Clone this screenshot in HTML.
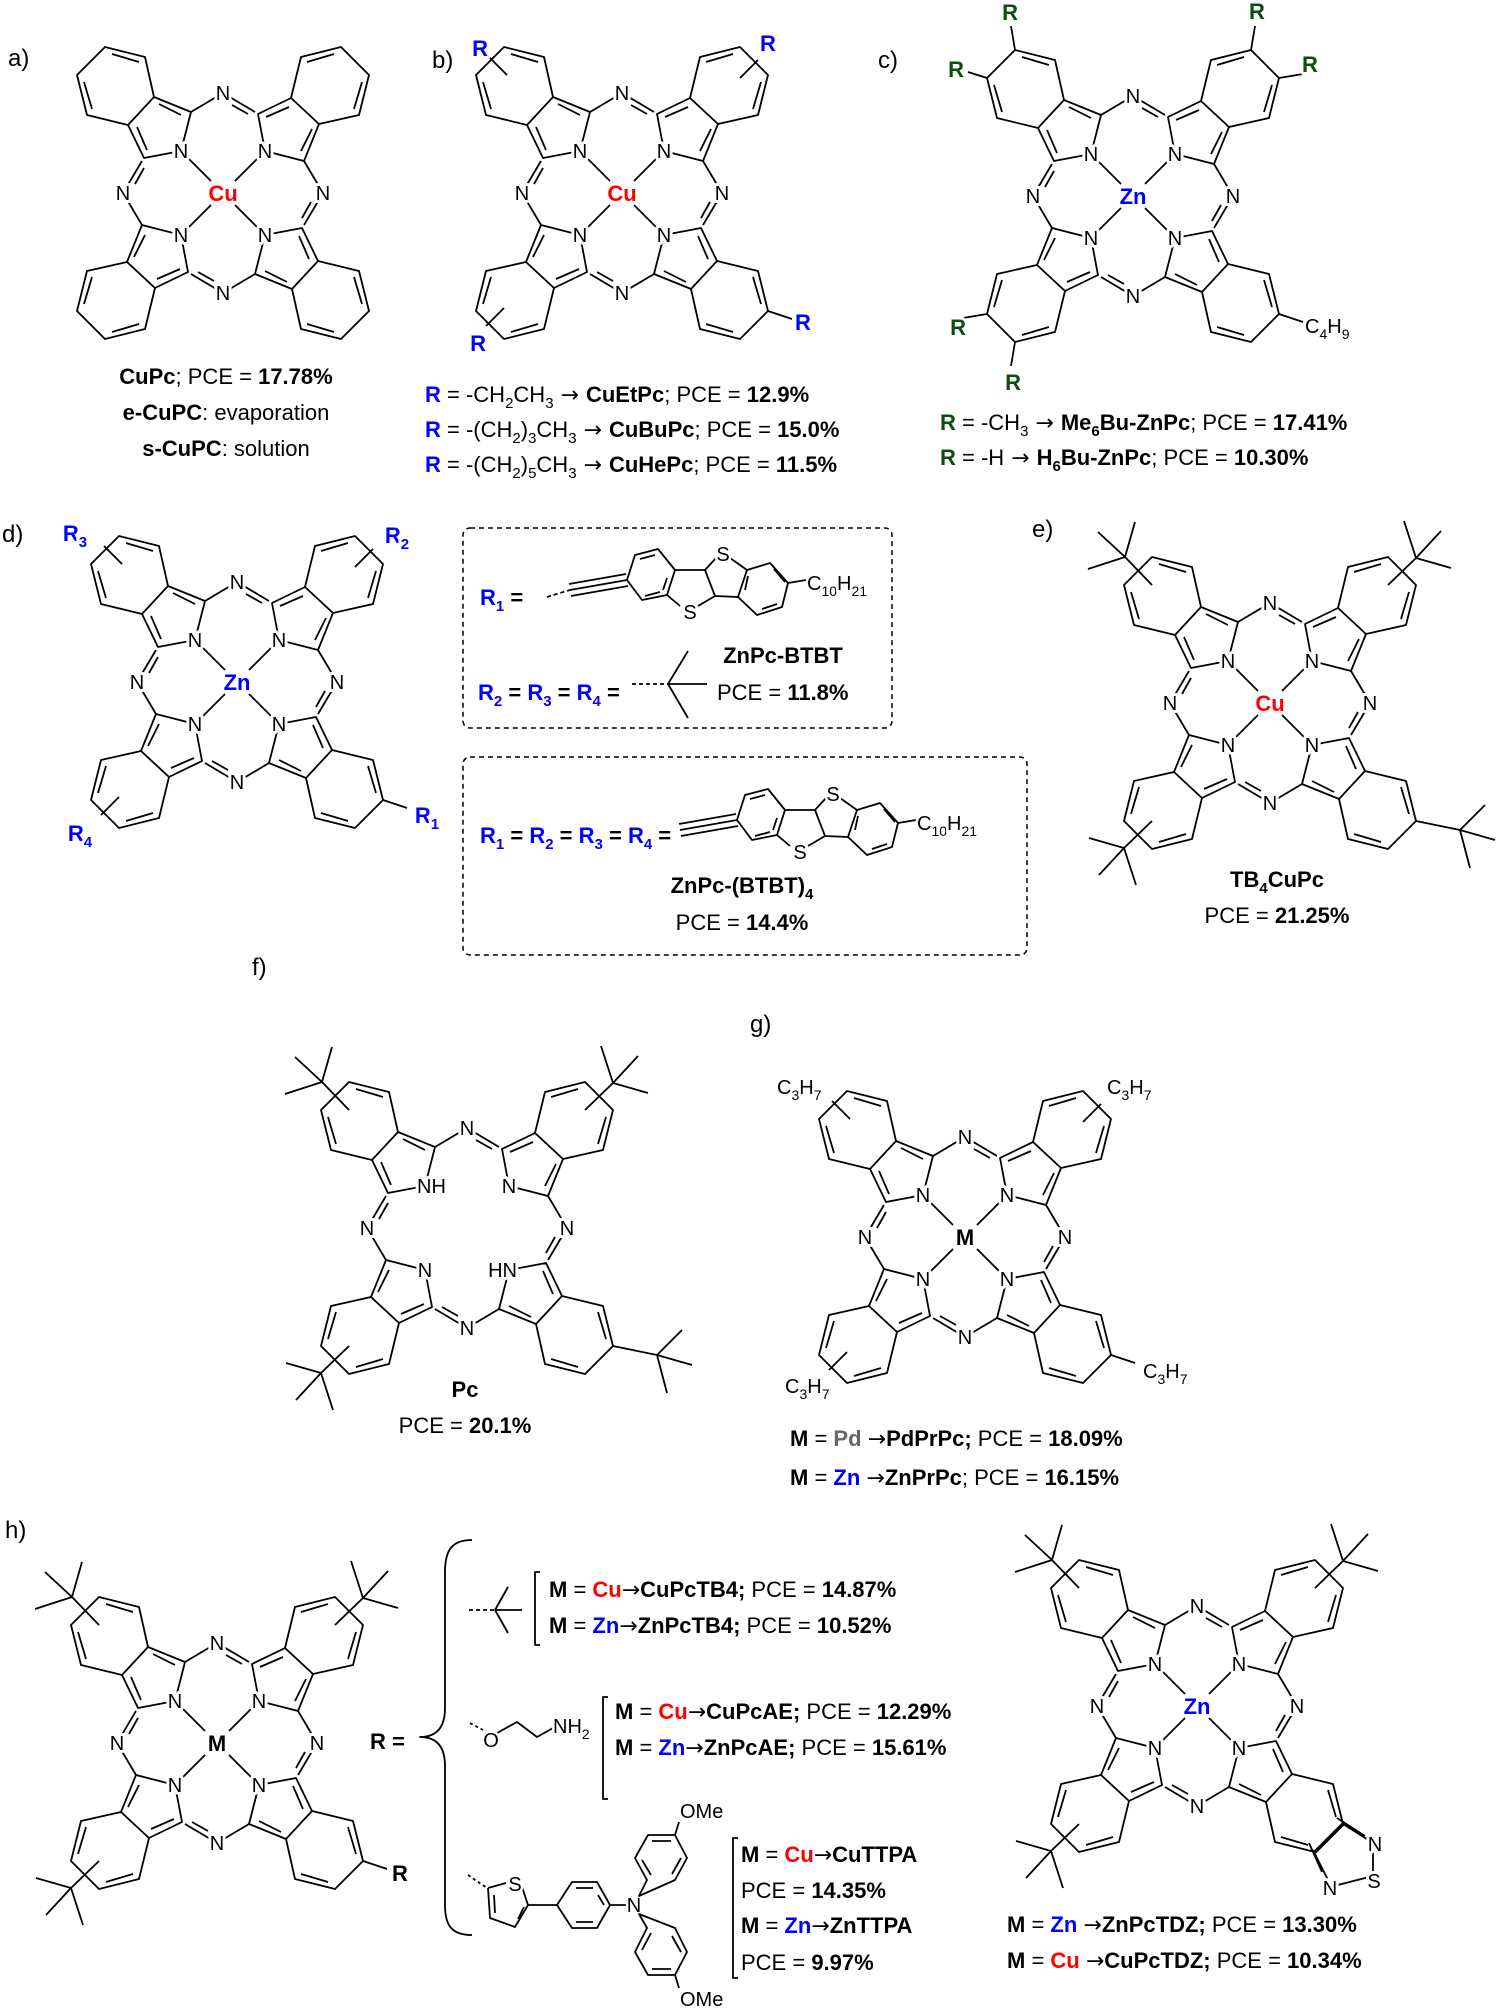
<!DOCTYPE html>
<html><head><meta charset="utf-8">
<style>
html,body{margin:0;padding:0;background:#fff;}
svg{display:block;}
.n{font:20px "Liberation Sans",sans-serif;text-anchor:middle;fill:#000;stroke:#fff;stroke-width:6;paint-order:stroke;stroke-linejoin:round;}
.m{font:bold 22px "Liberation Sans",sans-serif;text-anchor:middle;stroke:#fff;stroke-width:6;paint-order:stroke;stroke-linejoin:round;}
.t{font:22px "Liberation Sans",sans-serif;fill:#000;}
.lb{font:24px "Liberation Sans",sans-serif;fill:#000;}
.s{font:20px "Liberation Sans",sans-serif;fill:#000;stroke:#fff;stroke-width:5;paint-order:stroke;}
.b{font-weight:bold;}
.bl{fill:#0000ff;}
.rd{fill:#ff0000;}
.gr{fill:#0d4d0d;}
.ar{font-family:"DejaVu Sans",sans-serif;font-weight:normal;}
.k{stroke:#000;stroke-width:1.8;fill:none;stroke-linejoin:round;}
</style></head><body>
<svg width="1500" height="2010" viewBox="0 0 1500 2010" xmlns="http://www.w3.org/2000/svg">
<defs>
<g id="q" class="k">
<path d="M-42,-42L-32,-81L-69,-96L-95,-68L-79,-35L-42,-42M-69,-96L-78,-136L-118,-146L-146,-118L-136,-78L-95,-68M-32,-81L0,-100L32,-81"/>
<path d="M-86,-66L-76,-43M-64,-89L-42,-78M-84,-131L-111,-139M-131,-84L-139,-111M9,-88L25,-79"/>
</g>
<g id="pc"><use href="#q"/><use href="#q" transform="rotate(90)"/><use href="#q" transform="rotate(180)"/><use href="#q" transform="rotate(270)"/></g>
<g id="mb1" class="k"><path d="M-36,-36L-12,-12"/></g>
<g id="mb"><use href="#mb1"/><use href="#mb1" transform="rotate(90)"/><use href="#mb1" transform="rotate(180)"/><use href="#mb1" transform="rotate(270)"/></g>
<g id="tb" class="k"><path d="M-118,-118L-145,-146M-145,-146L-182,-134M-145,-146L-135,-181M-145,-146L-172,-171"/></g>
<g id="tbr" class="k"><path d="M146,118L190,127M190,127L225,137M190,127L215,102M190,127L200,165"/></g>
<g id="tb3"><use href="#tb"/><use href="#tb" transform="rotate(90)"/><use href="#tb" transform="rotate(-90)"/></g>
<g id="sl" class="k"><path d="M-133,-136L-115,-118"/></g>
<g id="sl3"><use href="#sl"/><use href="#sl" transform="rotate(90)"/><use href="#sl" transform="rotate(-90)"/></g>
<g id="br" class="k"><path d="M146,118L170,126"/></g>
</defs>

<text class="lb" x="8" y="66">a)</text>
<text class="lb" x="432" y="68">b)</text>
<text class="lb" x="878" y="68">c)</text>
<text class="lb" x="2" y="542">d)</text>
<text class="lb" x="1032" y="537">e)</text>
<text class="lb" x="252" y="975">f)</text>
<text class="lb" x="750" y="1032">g)</text>
<text class="lb" x="5" y="1538">h)</text>

<!-- a -->
<g transform="translate(223,193)">
<use href="#pc"/><use href="#mb"/>
<text class="n" x="-42" y="-35">N</text><text class="n" x="42" y="-35">N</text><text class="n" x="-42" y="49">N</text><text class="n" x="42" y="49">N</text><text class="n" x="0" y="-93">N</text><text class="n" x="-100" y="7">N</text><text class="n" x="100" y="7">N</text><text class="n" x="0" y="107">N</text>
<text class="m rd" x="0" y="8">Cu</text>
</g>
<text class="t" text-anchor="middle" x="226" y="384"><tspan class="b">CuPc</tspan>; PCE = <tspan class="b">17.78%</tspan></text>
<text class="t" text-anchor="middle" x="226" y="420"><tspan class="b">e-CuPC</tspan>: evaporation</text>
<text class="t" text-anchor="middle" x="226" y="456"><tspan class="b">s-CuPC</tspan>: solution</text>

<!-- b -->
<g transform="translate(622,193)">
<use href="#pc"/><use href="#mb"/><use href="#sl3"/><use href="#br"/>
<text class="n" x="-42" y="-35">N</text><text class="n" x="42" y="-35">N</text><text class="n" x="-42" y="49">N</text><text class="n" x="42" y="49">N</text><text class="n" x="0" y="-93">N</text><text class="n" x="-100" y="7">N</text><text class="n" x="100" y="7">N</text><text class="n" x="0" y="107">N</text>
<text class="m rd" x="0" y="8">Cu</text>
<text class="m bl" x="-142" y="-137">R</text><text class="m bl" x="146" y="-142">R</text><text class="m bl" x="-144" y="158">R</text><text class="m bl" x="181" y="137">R</text>
</g>
<text class="t" x="425" y="402"><tspan class="b bl">R</tspan> = -CH<tspan font-size="15" dy="6">2</tspan><tspan dy="-6">CH</tspan><tspan font-size="15" dy="6">3</tspan><tspan dy="-6" class="ar"> → </tspan><tspan class="b">CuEtPc</tspan>; PCE = <tspan class="b">12.9%</tspan></text>
<text class="t" x="425" y="437"><tspan class="b bl">R</tspan> = -(CH<tspan font-size="15" dy="6">2</tspan><tspan dy="-6">)</tspan><tspan font-size="15" dy="6">3</tspan><tspan dy="-6">CH</tspan><tspan font-size="15" dy="6">3</tspan><tspan dy="-6" class="ar"> → </tspan><tspan class="b">CuBuPc</tspan>; PCE = <tspan class="b">15.0%</tspan></text>
<text class="t" x="425" y="472"><tspan class="b bl">R</tspan> = -(CH<tspan font-size="15" dy="6">2</tspan><tspan dy="-6">)</tspan><tspan font-size="15" dy="6">5</tspan><tspan dy="-6">CH</tspan><tspan font-size="15" dy="6">3</tspan><tspan dy="-6" class="ar"> → </tspan><tspan class="b">CuHePc</tspan>; PCE = <tspan class="b">11.5%</tspan></text>

<!-- c -->
<g transform="translate(1133,196)">
<use href="#pc"/><use href="#mb"/><use href="#br"/>
<path class="k" d="M-118,-146L-122,-170M-146,-118L-165,-124M146,-118L170,-122M118,-146L122,-170M-146,118L-170,122M-118,146L-122,170"/>
<text class="n" x="-42" y="-35">N</text><text class="n" x="42" y="-35">N</text><text class="n" x="-42" y="49">N</text><text class="n" x="42" y="49">N</text><text class="n" x="0" y="-93">N</text><text class="n" x="-100" y="7">N</text><text class="n" x="100" y="7">N</text><text class="n" x="0" y="107">N</text>
<text class="m bl" x="0" y="8">Zn</text>
<text class="m gr" x="-123" y="-176">R</text><text class="m gr" x="-177" y="-119">R</text>
<text class="m gr" x="124" y="-177">R</text><text class="m gr" x="177" y="-124">R</text>
<text class="m gr" x="-175" y="139">R</text><text class="m gr" x="-120" y="194">R</text>
<text class="s" x="172" y="137">C<tspan font-size="14" dy="6">4</tspan><tspan dy="-6">H</tspan><tspan font-size="14" dy="6">9</tspan></text>
</g>
<text class="t" x="940" y="430"><tspan class="b gr">R</tspan> = -CH<tspan font-size="15" dy="6">3</tspan><tspan dy="-6" class="ar"> → </tspan><tspan class="b">Me</tspan><tspan class="b" font-size="15" dy="6">6</tspan><tspan class="b" dy="-6">Bu-ZnPc</tspan>; PCE = <tspan class="b">17.41%</tspan></text>
<text class="t" x="940" y="465"><tspan class="b gr">R</tspan> = -H<tspan class="ar"> → </tspan><tspan class="b">H</tspan><tspan class="b" font-size="15" dy="6">6</tspan><tspan class="b" dy="-6">Bu-ZnPc</tspan>; PCE = <tspan class="b">10.30%</tspan></text>

<!-- d -->
<g transform="translate(237,682)">
<use href="#pc"/><use href="#mb"/><use href="#sl3"/><use href="#br"/>
<text class="n" x="-42" y="-35">N</text><text class="n" x="42" y="-35">N</text><text class="n" x="-42" y="49">N</text><text class="n" x="42" y="49">N</text><text class="n" x="0" y="-93">N</text><text class="n" x="-100" y="7">N</text><text class="n" x="100" y="7">N</text><text class="n" x="0" y="107">N</text>
<text class="m bl" x="0" y="8">Zn</text>
<text class="m bl" x="-162" y="-141">R<tspan font-size="15" dy="6">3</tspan></text>
<text class="m bl" x="160" y="-139">R<tspan font-size="15" dy="6">2</tspan></text>
<text class="m bl" x="-157" y="159">R<tspan font-size="15" dy="6">4</tspan></text>
<text class="m bl" x="190" y="141">R<tspan font-size="15" dy="6">1</tspan></text>
</g>
<rect x="463" y="528" width="429" height="200" rx="7" fill="none" stroke="#000" stroke-width="1.5" stroke-dasharray="5,4"/>
<rect x="463" y="757" width="564" height="198" rx="7" fill="none" stroke="#000" stroke-width="1.5" stroke-dasharray="5,4"/>
<g>
<path class="k" stroke-dasharray="4,3" d="M547,597L570,590"/>
<path class="k" d="M570,590L627,580M569,584L626,574M571,596L628,586"/>
<path class="k" d="M627,580L635,555L658,549L675,570L667,595L642,600Z M675,570L705,570L715,596L738,597 M705,570L716,558 M730,558L747,570 M715,596L698,606 M680,606L667,595 M747,570L770,563L788,583L782,607L757,615L738,597Z M788,583L806,580"/>
<path class="k" d="M640,559L655,555M667,578L663,590M645,596L660,592M774,569L785,582M762,609L777,604M745,590L748,576"/>
<text class="s" x="723" y="561" text-anchor="middle">S</text>
<text class="s" x="690" y="619" text-anchor="middle">S</text>
<text class="s" x="807" y="590">C<tspan font-size="14" dy="6">10</tspan><tspan dy="-6">H</tspan><tspan font-size="14" dy="6">21</tspan></text>
</g>
<text class="t" x="480" y="605"><tspan class="b bl">R</tspan><tspan class="b bl" font-size="15" dy="6">1</tspan><tspan class="b" dy="-6"> =</tspan></text>
<text class="t" x="478" y="700"><tspan class="b bl">R</tspan><tspan class="b bl" font-size="15" dy="6">2</tspan><tspan class="b" dy="-6"> = </tspan><tspan class="b bl">R</tspan><tspan class="b bl" font-size="15" dy="6">3</tspan><tspan class="b" dy="-6"> = </tspan><tspan class="b bl">R</tspan><tspan class="b bl" font-size="15" dy="6">4</tspan><tspan class="b" dy="-6"> =</tspan></text>
<path class="k" stroke-dasharray="4,3" d="M632,684L668,684"/>
<path class="k" d="M668,684L688,651M668,684L707,684M668,684L688,718"/>
<text class="t b" x="783" y="663" text-anchor="middle">ZnPc-BTBT</text>
<text class="t" x="717" y="700">PCE = <tspan class="b">11.8%</tspan></text>
<g transform="translate(110,240)">
<path class="k" d="M570,590L627,580M569,584L626,574M571,596L628,586"/>
<path class="k" d="M627,580L635,555L658,549L675,570L667,595L642,600Z M675,570L705,570L715,596L738,597 M705,570L716,558 M730,558L747,570 M715,596L698,606 M680,606L667,595 M747,570L770,563L788,583L782,607L757,615L738,597Z M788,583L806,580"/>
<path class="k" d="M640,559L655,555M667,578L663,590M645,596L660,592M774,569L785,582M762,609L777,604M745,590L748,576"/>
<text class="s" x="723" y="561" text-anchor="middle">S</text>
<text class="s" x="690" y="619" text-anchor="middle">S</text>
<text class="s" x="807" y="590">C<tspan font-size="14" dy="6">10</tspan><tspan dy="-6">H</tspan><tspan font-size="14" dy="6">21</tspan></text>
</g>
<text class="t" x="480" y="843"><tspan class="b bl">R</tspan><tspan class="b bl" font-size="15" dy="6">1</tspan><tspan class="b" dy="-6"> = </tspan><tspan class="b bl">R</tspan><tspan class="b bl" font-size="15" dy="6">2</tspan><tspan class="b" dy="-6"> = </tspan><tspan class="b bl">R</tspan><tspan class="b bl" font-size="15" dy="6">3</tspan><tspan class="b" dy="-6"> = </tspan><tspan class="b bl">R</tspan><tspan class="b bl" font-size="15" dy="6">4</tspan><tspan class="b" dy="-6"> =</tspan></text>
<text class="t b" x="742" y="893" text-anchor="middle">ZnPc-(BTBT)<tspan font-size="15" dy="6">4</tspan></text>
<text class="t" x="742" y="930" text-anchor="middle">PCE = <tspan class="b">14.4%</tspan></text>

<!-- e -->
<g transform="translate(1270,703)">
<use href="#pc"/><use href="#mb"/><use href="#tb3"/><use href="#tbr"/>
<text class="n" x="-42" y="-35">N</text><text class="n" x="42" y="-35">N</text><text class="n" x="-42" y="49">N</text><text class="n" x="42" y="49">N</text><text class="n" x="0" y="-93">N</text><text class="n" x="-100" y="7">N</text><text class="n" x="100" y="7">N</text><text class="n" x="0" y="107">N</text>
<text class="m rd" x="0" y="8">Cu</text>
</g>
<text class="t b" x="1277" y="887" text-anchor="middle">TB<tspan font-size="15" dy="6">4</tspan><tspan dy="-6">CuPc</tspan></text>
<text class="t" x="1277" y="923" text-anchor="middle">PCE = <tspan class="b">21.25%</tspan></text>

<!-- f -->
<g transform="translate(467,1228)">
<use href="#pc"/><use href="#tb3"/><use href="#tbr"/>
<text class="n" x="-50" y="-35" style="text-anchor:start">NH</text><text class="n" x="42" y="-35">N</text><text class="n" x="-42" y="49">N</text><text class="n" x="50" y="49" style="text-anchor:end">HN</text><text class="n" x="0" y="-93">N</text><text class="n" x="-100" y="7">N</text><text class="n" x="100" y="7">N</text><text class="n" x="0" y="107">N</text>
</g>
<text class="t b" x="465" y="1397" text-anchor="middle">Pc</text>
<text class="t" x="465" y="1433" text-anchor="middle">PCE = <tspan class="b">20.1%</tspan></text>

<!-- g -->
<g transform="translate(965,1237)">
<use href="#pc"/><use href="#mb"/><use href="#sl3"/><use href="#br"/>
<text class="n" x="-42" y="-35">N</text><text class="n" x="42" y="-35">N</text><text class="n" x="-42" y="49">N</text><text class="n" x="42" y="49">N</text><text class="n" x="0" y="-93">N</text><text class="n" x="-100" y="7">N</text><text class="n" x="100" y="7">N</text><text class="n" x="0" y="107">N</text>
<text class="m" x="0" y="8">M</text>
<text class="s" x="-188" y="-143">C<tspan font-size="14" dy="6">3</tspan><tspan dy="-6">H</tspan><tspan font-size="14" dy="6">7</tspan></text>
<text class="s" x="142" y="-143">C<tspan font-size="14" dy="6">3</tspan><tspan dy="-6">H</tspan><tspan font-size="14" dy="6">7</tspan></text>
<text class="s" x="-180" y="156">C<tspan font-size="14" dy="6">3</tspan><tspan dy="-6">H</tspan><tspan font-size="14" dy="6">7</tspan></text>
<text class="s" x="178" y="141">C<tspan font-size="14" dy="6">3</tspan><tspan dy="-6">H</tspan><tspan font-size="14" dy="6">7</tspan></text>
</g>
<text class="t" x="790" y="1446"><tspan class="b">M</tspan> = <tspan class="b" fill="#666">Pd</tspan> <tspan class="ar">→</tspan><tspan class="b">PdPrPc;</tspan> PCE = <tspan class="b">18.09%</tspan></text>
<text class="t" x="790" y="1485"><tspan class="b">M</tspan> = <tspan class="b bl">Zn</tspan> <tspan class="ar">→</tspan><tspan class="b">ZnPrPc</tspan>; PCE = <tspan class="b">16.15%</tspan></text>

<!-- h left -->
<g transform="translate(217,1743)">
<use href="#pc"/><use href="#mb"/><use href="#tb3"/><use href="#br"/>
<text class="n" x="-42" y="-35">N</text><text class="n" x="42" y="-35">N</text><text class="n" x="-42" y="49">N</text><text class="n" x="42" y="49">N</text><text class="n" x="0" y="-93">N</text><text class="n" x="-100" y="7">N</text><text class="n" x="100" y="7">N</text><text class="n" x="0" y="107">N</text>
<text class="m" x="0" y="8">M</text>
<text class="m" x="183" y="138">R</text>
</g>
<text class="t b" x="370" y="1749" font-size="26">R =</text>
<path class="k" d="M472,1540C452,1540 445,1550 445,1572L445,1708C445,1728 436,1737 420,1737C436,1737 445,1746 445,1766L445,1905C445,1926 452,1935 472,1935"/>
<path class="k" stroke-dasharray="4,3" d="M469,1610L495,1610"/>
<path class="k" d="M495,1610L508,1587M495,1610L522,1610M495,1610L508,1633"/>
<path class="k" d="M540,1572L535,1572L535,1645L540,1645"/>
<text class="t" x="549" y="1597"><tspan class="b">M</tspan> = <tspan class="b rd">Cu</tspan><tspan class="ar">→</tspan><tspan class="b">CuPcTB4;</tspan> PCE = <tspan class="b">14.87%</tspan></text>
<text class="t" x="549" y="1633"><tspan class="b">M</tspan> = <tspan class="b bl">Zn</tspan><tspan class="ar">→</tspan><tspan class="b">ZnPcTB4;</tspan> PCE = <tspan class="b">10.52%</tspan></text>
<path class="k" stroke-dasharray="3,3" d="M470,1723L483,1730"/>
<path class="k" d="M497,1733L517,1722L537,1737L553,1728"/>
<text class="s" x="491" y="1747" text-anchor="middle">O</text>
<text class="s" x="553" y="1733">NH<tspan font-size="14" dy="6">2</tspan></text>
<path class="k" d="M608,1697L603,1697L603,1799L608,1799"/>
<text class="t" x="615" y="1719"><tspan class="b">M</tspan> = <tspan class="b rd">Cu</tspan><tspan class="ar">→</tspan><tspan class="b">CuPcAE;</tspan> PCE = <tspan class="b">12.29%</tspan></text>
<text class="t" x="615" y="1755"><tspan class="b">M</tspan> = <tspan class="b bl">Zn</tspan><tspan class="ar">→</tspan><tspan class="b">ZnPcAE;</tspan> PCE = <tspan class="b">15.61%</tspan></text>
<path class="k" stroke-dasharray="3,3" d="M468,1875L487,1888"/>
<path class="k" d="M488,1888L506,1883M522,1887L528,1905L515,1927L490,1918L488,1888M494,1895L495,1913M518,1919L524,1907M528,1905L557,1905"/>
<text class="s" x="515" y="1891" text-anchor="middle">S</text>
<path class="k" d="M557,1905L572,1882L597,1882L610,1905L597,1928L572,1928Z M576,1888L593,1888M576,1922L593,1922M604,1905L598,1895 M610,1905L626,1905"/>
<text class="s" x="634" y="1912" text-anchor="middle">N</text>
<path class="k" d="M639,1896L647,1880L635,1858L648,1835L675,1835L687,1858L675,1880Z M651,1875L642,1860M652,1841L671,1841M681,1858L672,1874M675,1835L679,1822"/>
<path class="k" d="M639,1914L647,1928L635,1952L648,1975L675,1975L687,1952L675,1928Z M651,1933L642,1950M652,1969L671,1969M681,1952L672,1936M675,1975L679,1988"/>
<text class="s" x="680" y="1818">OMe</text>
<text class="s" x="680" y="2006">OMe</text>
<path class="k" d="M738,1838L733,1838L733,1978L738,1978"/>
<text class="t" x="741" y="1862"><tspan class="b">M</tspan> = <tspan class="b rd">Cu</tspan><tspan class="ar">→</tspan><tspan class="b">CuTTPA</tspan></text>
<text class="t" x="741" y="1898">PCE = <tspan class="b">14.35%</tspan></text>
<text class="t" x="741" y="1933"><tspan class="b">M</tspan> = <tspan class="b bl">Zn</tspan><tspan class="ar">→</tspan><tspan class="b">ZnTTPA</tspan></text>
<text class="t" x="741" y="1970">PCE = <tspan class="b">9.97%</tspan></text>

<!-- h right -->
<g transform="translate(1197,1706)">
<use href="#pc"/><use href="#mb"/><use href="#tb3"/>
<path class="k" d="M146,118L176,137M116,144L133,178M176,137L176,170M176,170L133,181M140,112L168,130M112,137L125,166"/>
<path d="M146,118L118,146" stroke="#000" stroke-width="3.5"/>
<text class="n" x="-42" y="-35">N</text><text class="n" x="42" y="-35">N</text><text class="n" x="-42" y="49">N</text><text class="n" x="42" y="49">N</text><text class="n" x="0" y="-93">N</text><text class="n" x="-100" y="7">N</text><text class="n" x="100" y="7">N</text><text class="n" x="0" y="107">N</text>
<text class="m bl" x="0" y="8">Zn</text>
<text class="n" x="178" y="145">N</text><text class="n" x="177" y="182">S</text><text class="n" x="133" y="189">N</text>
</g>
<text class="t" x="1007" y="1932"><tspan class="b">M</tspan> = <tspan class="b bl">Zn</tspan> <tspan class="ar">→</tspan><tspan class="b">ZnPcTDZ;</tspan> PCE = <tspan class="b">13.30%</tspan></text>
<text class="t" x="1007" y="1968"><tspan class="b">M</tspan> = <tspan class="b rd">Cu</tspan> <tspan class="ar">→</tspan><tspan class="b">CuPcTDZ;</tspan> PCE = <tspan class="b">10.34%</tspan></text>
</svg>
</body></html>
